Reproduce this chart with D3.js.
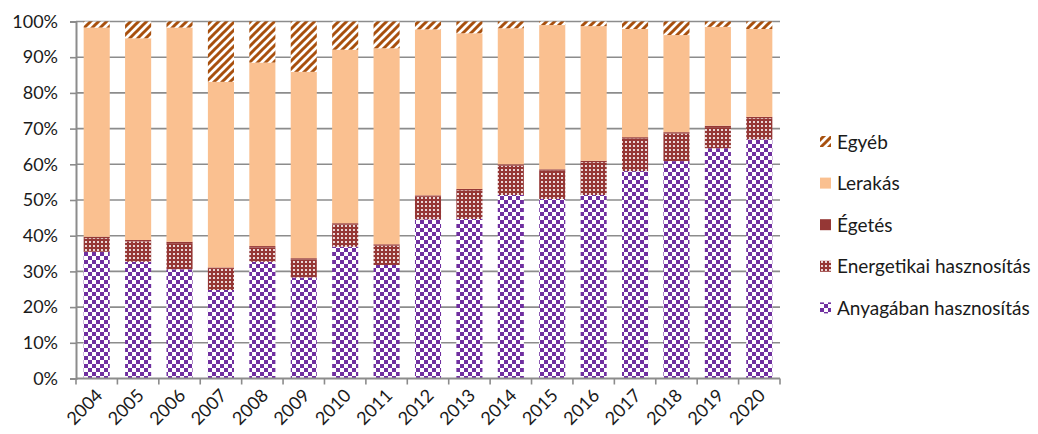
<!DOCTYPE html>
<html><head><meta charset="utf-8">
<script src="https://cdn.jsdelivr.net/npm/d3@7"></script>
<style>
html,body{margin:0;padding:0;background:#fff;}
svg{display:block;}
text{font-family:Lato,"Open Sans",sans-serif;fill:#1a1a1a;}
</style></head>
<body><svg id="c" width="1038" height="434"></svg>
<script>
const years = ["2004","2005","2006","2007","2008","2009","2010","2011","2012","2013","2014","2015","2016","2017","2018","2019","2020"];
const anyagaban   = [35.5,32.7,30.6,24.8,32.7,28.3,36.9,31.8,44.6,44.7,51.4,50.3,51.4,58.1,60.9,64.5,67.0];
const energetikai = [3.8,5.7,7.3,5.9,4.0,5.0,6.2,5.4,6.3,8.0,8.2,7.9,9.2,9.1,7.7,5.9,5.9];
const egetes      = [0.4,0.4,0.4,0.4,0.4,0.4,0.4,0.4,0.4,0.4,0.4,0.4,0.4,0.4,0.4,0.4,0.4];
const lerakas     = [58.6,56.5,60.0,52.0,51.4,52.2,48.6,54.9,46.5,43.6,38.1,40.4,37.7,30.3,27.2,27.7,24.6];
const egyeb       = [1.7,4.7,1.7,16.9,11.5,14.1,7.9,7.5,2.2,3.3,1.9,1.0,1.3,2.1,3.8,1.5,2.1];
const seriesNames = ["Anyagában hasznosítás","Energetikai hasznosítás","Égetés","Lerakás","Egyéb"];
const yTicks = [0,10,20,30,40,50,60,70,80,90,100];

const seriesVals = [anyagaban, energetikai, egetes, lerakas, egyeb];
const fills = ["url(#pAny)","url(#pEn)","#953735","#FAC090","url(#pEgy)"];

const svg = d3.select("#c");
const defs = svg.append("defs");
let p = defs.append("pattern").attr("id","pAny").attr("patternUnits","userSpaceOnUse").attr("width",8).attr("height",8);
p.append("rect").attr("width",8).attr("height",8).attr("fill","#fff");
p.append("rect").attr("x",0).attr("y",0).attr("width",4).attr("height",4).attr("fill","#7030A0");
p.append("rect").attr("x",4).attr("y",4).attr("width",4).attr("height",4).attr("fill","#7030A0");
p = defs.append("pattern").attr("id","pEn").attr("patternUnits","userSpaceOnUse").attr("width",4).attr("height",4);
p.append("rect").attr("width",4).attr("height",4).attr("fill","#953735");
p.append("rect").attr("x",1).attr("y",1).attr("width",2).attr("height",2).attr("fill","#fff").attr("opacity",0.8);
p = defs.append("pattern").attr("id","pEgy").attr("patternUnits","userSpaceOnUse").attr("width",8).attr("height",8);
p.append("rect").attr("width",8).attr("height",8).attr("fill","#fff");
p.append("path").attr("d","M-2,2 L2,-2 M0,8 L8,0 M6,10 L10,6").attr("stroke","#A8500E").attr("stroke-width",3);

const pLeft = 76, pRight = 780, pTop = 21.5, pBottom = 378.5;
const x = d3.scaleBand().domain(years).range([pLeft,pRight]).paddingInner(0.37).paddingOuter(0.185);
const y = d3.scaleLinear().domain([0,100]).range([pBottom,pTop]);
const gridC = "#8c8c8c";

svg.append("g").selectAll("line").data(yTicks.filter(d=>d>0)).join("line")
  .attr("x1",pLeft).attr("x2",pRight).attr("y1",d=>y(d)).attr("y2",d=>y(d))
  .attr("stroke",gridC).attr("stroke-width",1.6);

const table = years.map((yr,i)=>{const o={year:yr}; seriesNames.forEach((s,j)=>o[s]=seriesVals[j][i]); return o;});
const stack = d3.stack().keys(seriesNames)(table);
svg.append("g").selectAll("g").data(stack).join("g")
  .attr("fill",(d,i)=>fills[i])
  .selectAll("rect").data(d=>d).join("rect")
  .attr("x",d=>x(d.data.year)).attr("width",x.bandwidth())
  .attr("y",d=>y(d[1])).attr("height",d=>y(d[0])-y(d[1]));

const yAxis = d3.axisLeft(y).tickValues(yTicks).tickFormat(d=>d+"%").tickSize(6).tickPadding(8);
const gy = svg.append("g").attr("transform",`translate(${pLeft},0)`).call(yAxis);
gy.select(".domain").attr("stroke",gridC).attr("stroke-width",2);
gy.selectAll(".tick line").attr("stroke",gridC).attr("stroke-width",1.6);
gy.selectAll(".tick text").attr("font-size",18).attr("font-family","Lato").attr("fill","#1a1a1a").attr("dx",-4);

const step = x.step();
const bounds = years.map(d=>x(d)-step*x.paddingInner()/2).concat([pRight]);
const gx = svg.append("g");
gx.append("line").attr("x1",pLeft).attr("x2",pRight).attr("y1",pBottom).attr("y2",pBottom).attr("stroke",gridC).attr("stroke-width",2);
gx.selectAll("line.t").data(bounds).join("line").attr("class","t")
  .attr("x1",d=>d).attr("x2",d=>d).attr("y1",pBottom).attr("y2",pBottom+6).attr("stroke",gridC).attr("stroke-width",1.6);
gx.selectAll("text").data(years).join("text")
  .attr("transform",d=>`translate(${x(d)+x.bandwidth()/2+7},${pBottom+18}) rotate(-45)`)
  .attr("text-anchor","end").attr("font-size",18).text(d=>d);

const legOrder = [4,3,2,1,0];
const lg = svg.append("g");
legOrder.forEach((si,k)=>{
  const cy = 142 + k*41.6;
  lg.append("rect").attr("x",820).attr("y",cy-6).attr("width",11).attr("height",11).attr("fill",fills[si]);
  lg.append("text").attr("x",837).attr("y",cy).attr("dy","0.35em").attr("font-size",19).text(seriesNames[si]);
});
</script></body></html>
